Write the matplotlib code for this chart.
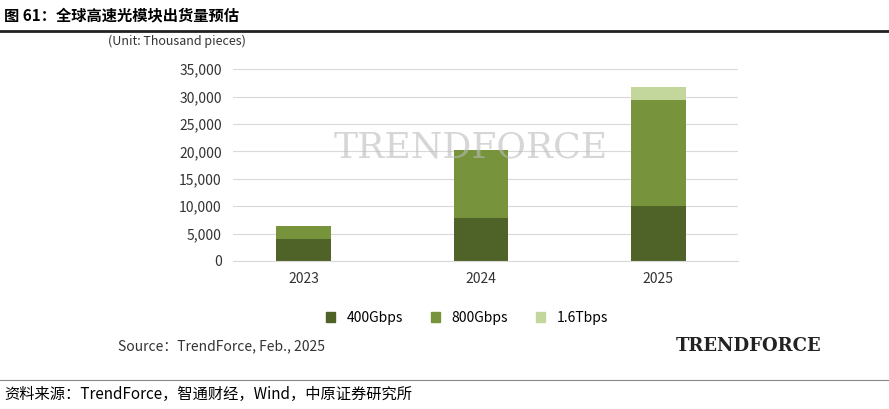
import matplotlib.pyplot as plt
from matplotlib.patches import Patch

plt.rcParams['font.family'] = ['Noto Sans CJK SC', 'DejaVu Sans']

years = ['2023', '2024', '2025']
g400 = [4000, 7900, 10100]
g800 = [2300, 12400, 19200]
t16 = [0, 0, 2500]
colors = ['#4f6228', '#77933c', '#c3d69b']
names = ['400Gbps', '800Gbps', '1.6Tbps']

fig = plt.figure(figsize=(8.89, 4.09), dpi=100)
ax = fig.add_axes([0.262, 0.362, 0.568, 0.469])

x = range(len(years))
bottom2 = [a + b for a, b in zip(g400, g800)]
ax.bar(x, g400, width=0.31, color=colors[0], zorder=2)
ax.bar(x, g800, width=0.31, bottom=g400, color=colors[1], zorder=2)
ax.bar(x, t16, width=0.31, bottom=bottom2, color=colors[2], zorder=2)

ax.set_ylim(0, 35000)
ax.set_xlim(-0.4, 2.45)
ax.set_yticks(range(0, 35001, 5000))
ax.set_yticklabels([f'{v:,}' for v in range(0, 35001, 5000)], fontsize=10, color='#333333')
ax.set_xticks(list(x))
ax.set_xticklabels(years, fontsize=10, color='#333333')
ax.grid(axis='y', color='#d9d9d9', lw=0.8, zorder=0)
for s in ax.spines.values():
    s.set_visible(False)
ax.spines['bottom'].set_visible(True)
ax.spines['bottom'].set_color('#d9d9d9')
ax.tick_params(length=0, pad=8)

fig.text(0.122, 0.89, '(Unit: Thousand pieces)', fontsize=9, color='#333333')
fig.text(0.53, 0.64, 'TRENDFORCE', fontsize=26, color='#bbbbbb', alpha=0.6,
         ha='center', va='center', family='DejaVu Serif')

handles = [Patch(color=c) for c in colors]
fig.legend(handles, names, loc='center', bbox_to_anchor=(0.525, 0.222), ncol=3,
           frameon=False, fontsize=10, handlelength=0.7, handleheight=0.7, columnspacing=2)

fig.text(0.133, 0.143, 'Source：TrendForce, Feb., 2025', fontsize=10, color='#333333')
fig.text(0.76, 0.143, 'TRENDFORCE', fontsize=13, color='#222222', family='DejaVu Serif',
         fontweight='bold')

fig.text(0.005, 0.962, '图 61：全球高速光模块出货量预估', fontsize=11, fontweight='bold', va='center')
fig.add_artist(plt.Line2D([0, 1], [0.925, 0.925], color='#222222', lw=2))
fig.add_artist(plt.Line2D([0, 1], [0.07, 0.07], color='#888888', lw=0.8))
fig.text(0.005, 0.035, '资料来源：TrendForce，智通财经，Wind，中原证券研究所', fontsize=11, va='center')

fig.savefig('out.png')
